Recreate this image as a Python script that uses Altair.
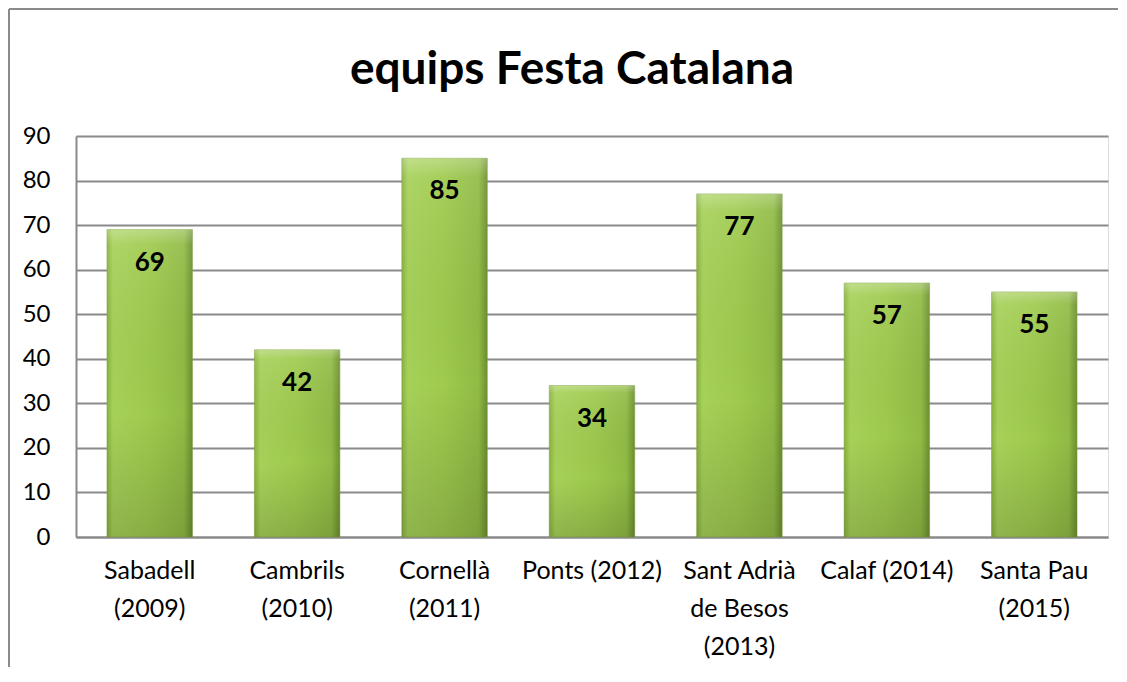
import altair as alt
import pandas as pd

title_text = "equips Festa Catalana"
categories = ["Sabadell|(2009)", "Cambrils|(2010)", "Cornellà|(2011)", "Ponts (2012)",
              "Sant Adrià|de Besos|(2013)", "Calaf (2014)", "Santa Pau|(2015)"]
values = [69, 42, 85, 34, 77, 57, 55]
y_ticks = [0, 10, 20, 30, 40, 50, 60, 70, 80, 90]

df = pd.DataFrame({"cat": categories, "val": values})

FONT = "Lato"
GRID = "#8a8a8a"

x_enc = alt.X("cat:N", sort=categories, title=None,
              scale=alt.Scale(paddingInner=0.42, paddingOuter=0.21),
              axis=alt.Axis(labelExpr="split(datum.label, '|')", labelAngle=0,
                            labelFontSize=25, labelFont=FONT, labelColor="#000",
                            labelPadding=21, labelLineHeight=38, ticks=False,
                            domainColor=GRID, domainWidth=2, labelBaseline="top"))
y_enc = alt.Y("val:Q", title=None,
              scale=alt.Scale(domain=[0, 90], nice=False),
              axis=alt.Axis(values=y_ticks, labelFontSize=24, labelFont=FONT,
                            labelColor="#000", labelPadding=26, ticks=False,
                            grid=True, gridColor=GRID, gridWidth=2,
                            domainColor=GRID, domainWidth=2))

base = alt.Chart(df)

bars = base.mark_bar(
    color=alt.Gradient(
        gradient="linear", x1=0, x2=1, y1=0, y2=0,
        stops=[alt.GradientStop(offset=0, color="#88B23E"),
               alt.GradientStop(offset=0.07, color="#A6D159"),
               alt.GradientStop(offset=0.5, color="#9ECA4D"),
               alt.GradientStop(offset=0.9, color="#90BB45"),
               alt.GradientStop(offset=1, color="#6C902E")]),
    stroke="#7d9f3a", strokeWidth=0.5
).encode(x=x_enc, y=y_enc)

shade = base.mark_bar(
    color=alt.Gradient(
        gradient="linear", x1=0, x2=0, y1=0, y2=1,
        stops=[alt.GradientStop(offset=0, color="rgba(255,255,255,0.3)"),
               alt.GradientStop(offset=0.05, color="rgba(255,255,255,0.08)"),
               alt.GradientStop(offset=0.6, color="rgba(0,0,0,0.0)"),
               alt.GradientStop(offset=1, color="rgba(0,0,0,0.14)")])
).encode(x=alt.X("cat:N", sort=categories), y="val:Q")

labels = base.mark_text(font=FONT, fontSize=26, fontWeight="bold", color="#000",
                        baseline="middle", dy=33).encode(
    x=alt.X("cat:N", sort=categories), y="val:Q", text="val:Q")

title = alt.Chart(pd.DataFrame({"t": [title_text]})).mark_text(
    font=FONT, fontSize=46, fontWeight="bold", color="#000",
    align="center", baseline="alphabetic").encode(
    x=alt.value(496), y=alt.value(-52), text="t:N")

border_left = base.mark_rule(color="#8a8a8a", strokeWidth=2).encode(
    x=alt.value(-67), y=alt.value(-127), y2=alt.value(560))
border_top = base.mark_rule(color="#8a8a8a", strokeWidth=2).encode(
    x=alt.value(-67), x2=alt.value(1060), y=alt.value(-127))

chart = alt.layer(bars, shade, labels, title, border_left, border_top).properties(
    width=1032, height=401,
    autosize=alt.AutoSizeParams(type="none"),
    padding={"left": 68, "top": 128, "right": 10, "bottom": 130},
).configure_view(stroke=None).configure(background="white")

chart.save("out.html", embed_options={"renderer": "svg", "actions": False})
